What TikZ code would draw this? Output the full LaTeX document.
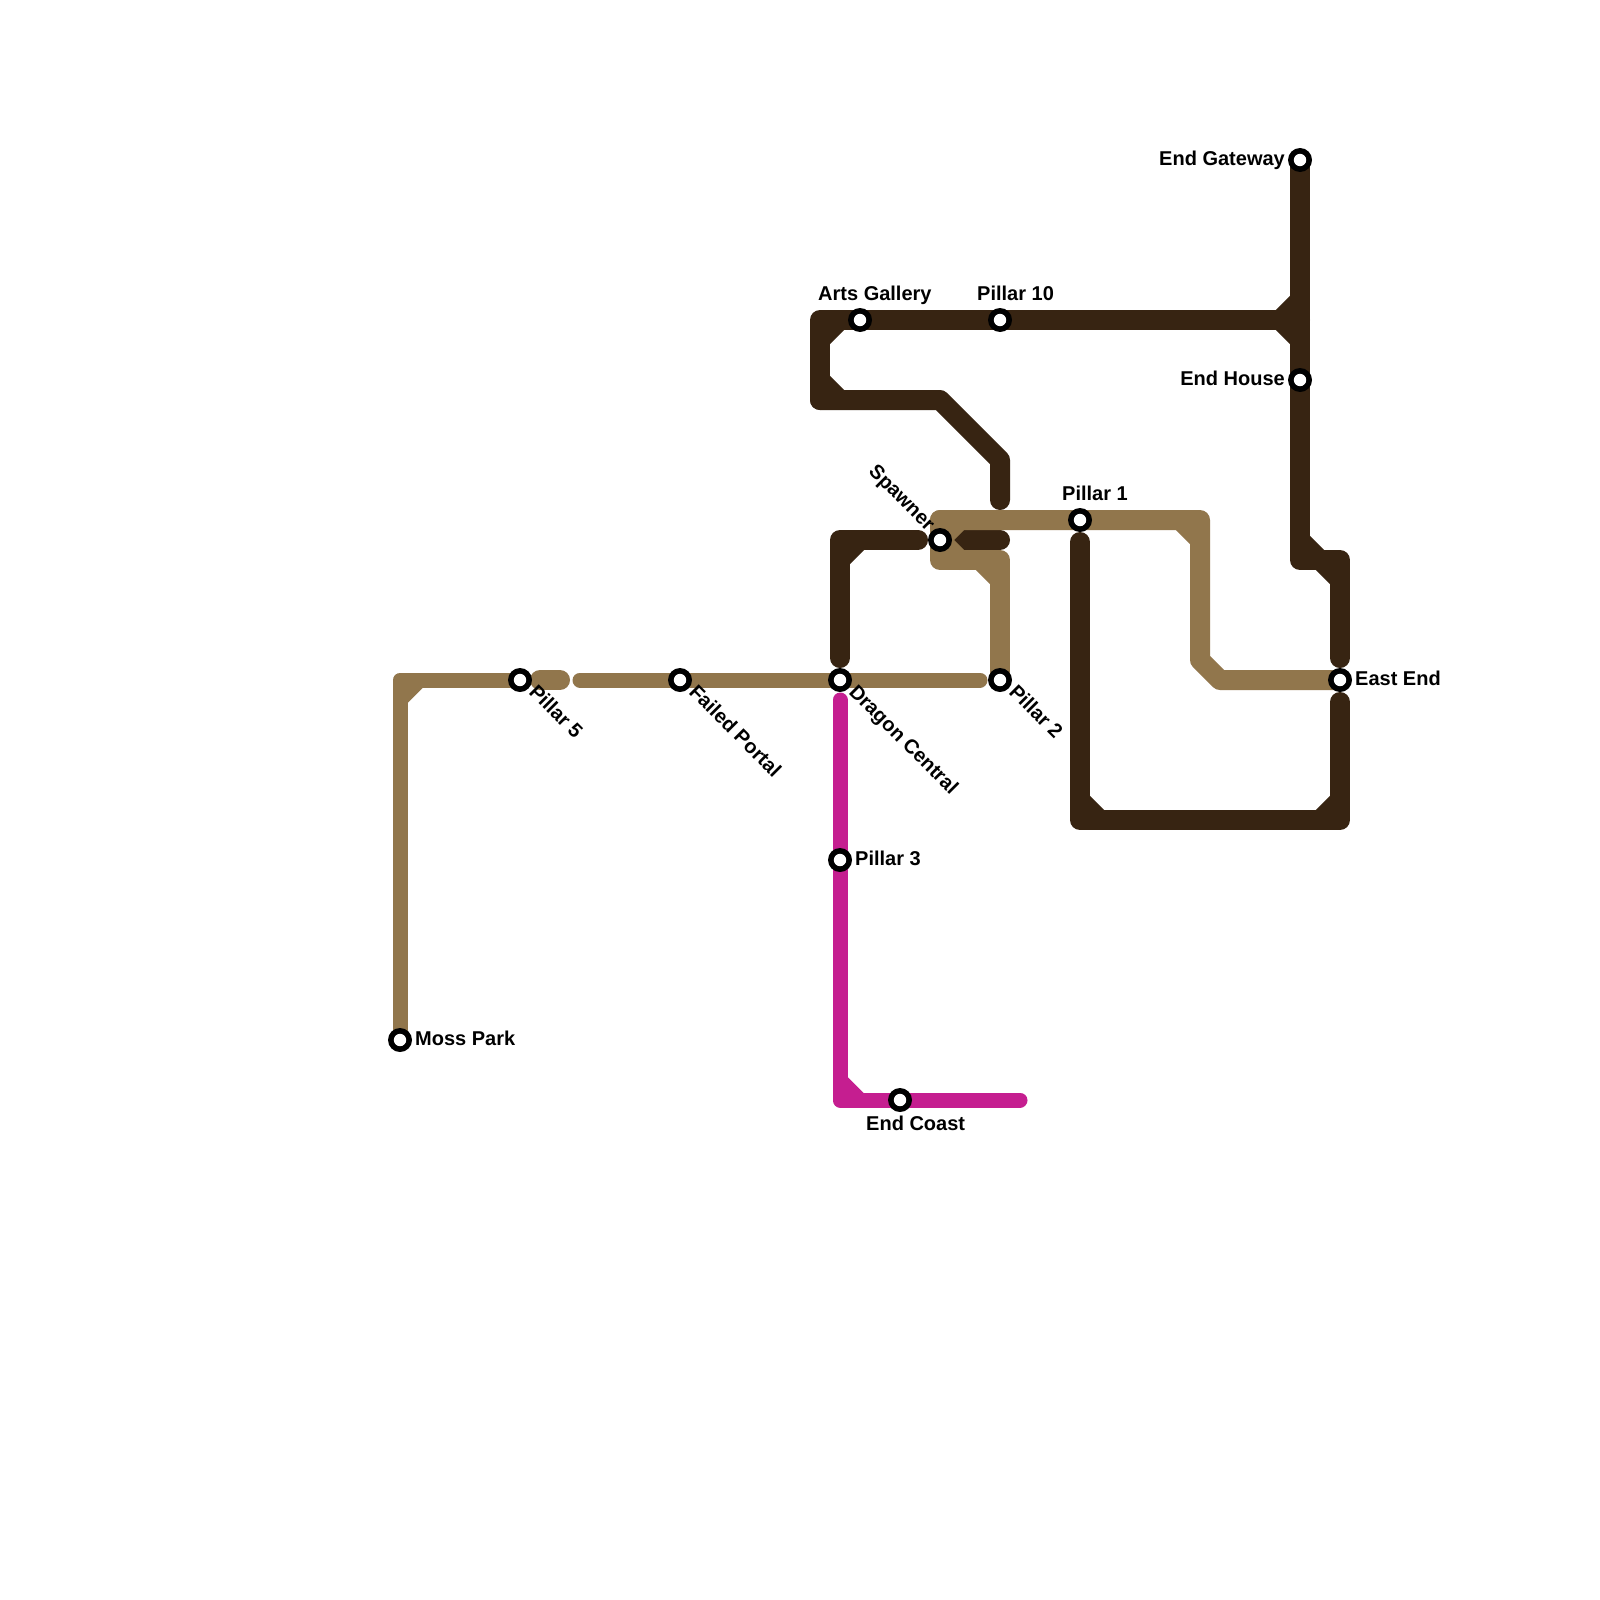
\documentclass[tikz,border=0pt]{standalone}
\usepackage{fontspec}
\setmainfont{Liberation Sans}
\definecolor{darkline}{RGB}{55,36,18}
\definecolor{tanline}{RGB}{145,118,76}
\definecolor{pinkline}{RGB}{197,30,144}
\pgfdeclarelayer{lines}
\pgfsetlayers{lines,main}
\tikzset{
  x=1pt,y=-1pt,
  stop/.style={circle,fill=black,minimum size=24pt,inner sep=0pt,outer sep=0pt,
    path picture={\fill[white] (path picture bounding box.center) circle (6.2pt);}},
  lab/.style={font=\fontsize{20}{24}\selectfont\bfseries,inner sep=0pt,text=black},
  diag/.style={lab,rotate=-45},
  wide/.style={line width=20pt,line cap=round,line join=round},
  slim/.style={line width=15pt,line cap=round,line join=round},
  dk/.style={wide,draw=darkline},
  tn/.style={wide,draw=tanline},
  tns/.style={slim,draw=tanline},
  pk/.style={slim,draw=pinkline}
}
\begin{document}
\begin{tikzpicture}
\useasboundingbox (0,0) rectangle (1600,1600);
% stations
\node[stop] (gateway) at (1300,160) {};
\node[stop] (house) at (1300,380) {};
\node[stop] (east) at (1340,680) {};
\node[stop] (p1) at (1080,520) {};
\node[stop] (p10) at (1000,320) {};
\node[stop] (arts) at (860,320) {};
\node[stop] (spawner) at (940,540) {};
\node[stop] (central) at (840,680) {};
\node[stop] (p2) at (1000,680) {};
\node[stop] (portal) at (680,680) {};
\node[stop] (p5) at (520,680) {};
\node[stop] (moss) at (400,1040) {};
\node[stop] (p3) at (840,860) {};
\node[stop] (coast) at (900,1100) {};
% labels
\node[lab,anchor=base east] (lgateway) at (1285,165) {End Gateway};
\node[lab,anchor=base east] (lhouse) at (1285,385) {End House};
\node[lab,anchor=base west] (least) at (1355,685) {East End};
\node[lab,anchor=base west] (lp1) at (1062,500) {Pillar 1};
\node[lab,anchor=base west] (lp10) at (977,300) {Pillar 10};
\node[lab,anchor=base west] (larts) at (818,300) {Arts Gallery};
\node[lab,anchor=base west] (lp3) at (855,865) {Pillar 3};
\node[lab,anchor=base west] (lmoss) at (415,1045) {Moss Park};
\node[lab,anchor=base west] (lcoast) at (866,1130) {End Coast};
\node[diag,anchor=base west] (lp5) at (528,693) {Pillar 5};
\node[diag,anchor=base west] (lportal) at (688,693) {Failed Portal};
\node[diag,anchor=base west] (lcentral) at (848,693) {Dragon Central};
\node[diag,anchor=base west] (lp2) at (1008,693) {Pillar 2};
\node[diag,anchor=base east] (lspawner) at (927,532) {Spawner};
% bend points
\coordinate (tl) at (820,320);
\coordinate (bl) at (820,400);
\coordinate (b2) at (940,400);
\coordinate (b3) at (1000,460);
\coordinate (b4) at (1000,500);
\coordinate (tr) at (1300,320);
\coordinate (c1) at (918,540);
\coordinate (c2) at (840,540);
\coordinate (c3) at (840,658);
\coordinate (c4) at (960,540);
\coordinate (c5) at (1000,540);
\coordinate (r1) at (1300,560);
\coordinate (r2) at (1340,560);
\coordinate (r3) at (1340,658);
\coordinate (r4) at (1340,702);
\coordinate (r5) at (1340,820);
\coordinate (r6) at (1080,820);
\coordinate (r7) at (1080,542);
\coordinate (t1) at (1200,520);
\coordinate (t2) at (1200,660);
\coordinate (t3) at (1220,680);
\coordinate (t4) at (940,520);
\coordinate (t5) at (940,560);
\coordinate (t6) at (1000,560);
\coordinate (m1) at (400,680);
\coordinate (m2) at (540,680);
\coordinate (m3) at (560,680);
\coordinate (m4) at (580,680);
\coordinate (m5) at (980,680);
\coordinate (k1) at (840,700);
\coordinate (k2) at (840,1100);
\coordinate (k3) at (1020,1100);
\begin{pgfonlayer}{lines}
\fill[white] (0,0) rectangle (1600,1600);
% dark lines
\draw[dk] (bl) -- (tl) -- (arts.center) -- (p10.center) -- (tr);
\draw[dk] (bl) -- (b2) -- (b3) -- (b4);
\draw[dk] (gateway.center) -- (house.center) -- (r1) -- (r2) -- (r3);
\draw[dk] (c1) -- (c2) -- (c3);
\draw[dk] (c4) -- (c5);
\draw[dk] (r4) -- (r5) -- (r6) -- (r7);
% dark corner fills
\draw[dk,line cap=butt] (840,320) -- (820,340);
\draw[dk,line cap=butt] (820,380) -- (840,400);
\draw[dk,line cap=butt] (1280,320) -- (1300,300);
\draw[dk,line cap=butt] (1280,320) -- (1300,340);
\draw[dk,line cap=butt] (860,540) -- (840,560);
\draw[dk,line cap=butt] (1300,540) -- (1320,560);
\draw[dk,line cap=butt] (1320,560) -- (1340,580);
\draw[dk,line cap=butt] (1080,800) -- (1100,820);
\draw[dk,line cap=butt] (1320,820) -- (1340,800);
% tan lines
\draw[tn] (t4) -- (p1.center) -- (t1) -- (t2) -- (t3) -- (east.center);
\draw[tn] (t4) -- (t5) -- (t6) -- (p2.center);
\draw[tn] (m2) -- (m3);
\draw[tns] (moss.center) -- (m1) -- (p5.center);
\draw[tns] (m4) -- (portal.center) -- (central.center) -- (m5);
% tan corner fills
\draw[tn] (940,540) -- (960,520);
\draw[tn] (940,540) -- (960,560);
\draw[tn,line cap=butt] (980,560) -- (1000,580);
\draw[tn,line cap=butt] (1180,520) -- (1200,540);
\draw[tns,line cap=butt] (420,680) -- (400,700);
% pink line
\draw[pk] (k1) -- (p3.center) -- (k2) -- (coast.center) -- (k3);
\draw[pk,line cap=butt] (840,1080) -- (860,1100);
\end{pgfonlayer}
\end{tikzpicture}
\end{document}
